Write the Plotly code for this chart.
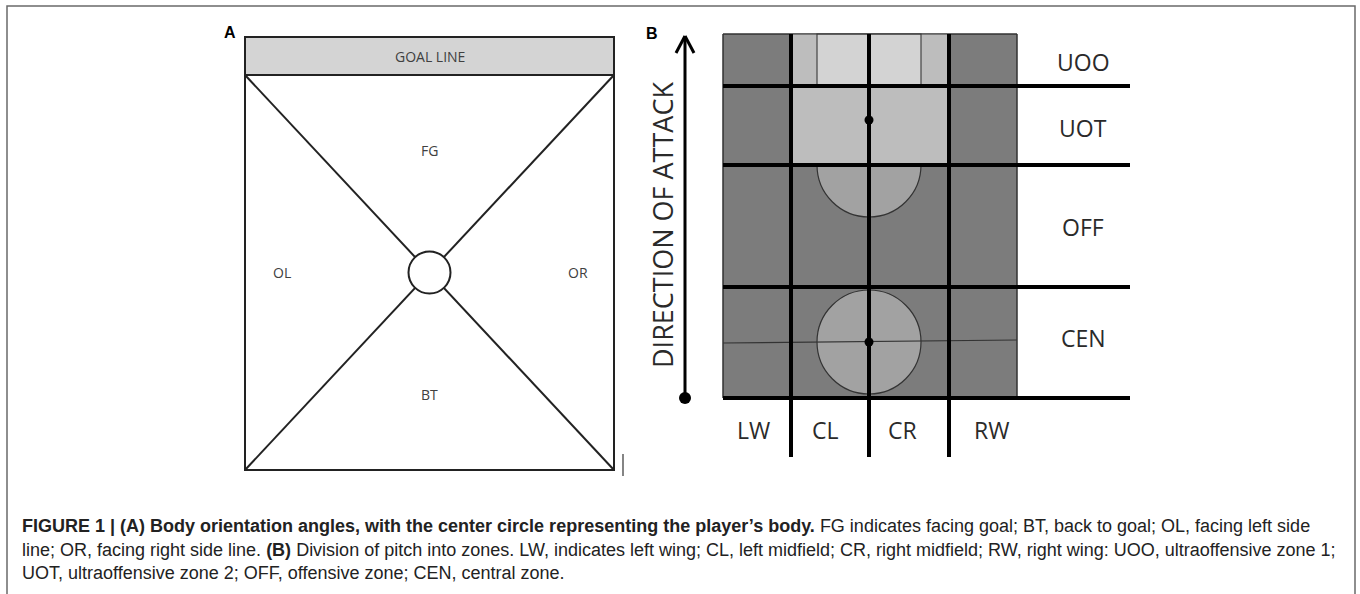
import numpy as np
import plotly.graph_objects as go

# ---------------- content ----------------
panel_labels = ["A", "B"]
goal_label = "GOAL LINE"
orientation_labels = ["FG", "OL", "OR", "BT"]      # top, left, right, bottom sectors
zone_rows = ["UOO", "UOT", "OFF", "CEN"]           # top to bottom
zone_cols = ["LW", "CL", "CR", "RW"]               # left to right
attack_label = "DIRECTION OF ATTACK"
caption_lines = [
    "<b>FIGURE 1 | (A) Body orientation angles, with the center circle representing the player\u2019s body.</b>"
    " FG indicates facing goal; BT, back to goal; OL, facing left side",
    "line; OR, facing right side line. <b>(B)</b> Division of pitch into zones. LW, indicates left wing;"
    " CL, left midfield; CR, right midfield; RW, right wing: UOO, ultraoffensive zone 1;",
    "UOT, ultraoffensive zone 2; OFF, offensive zone; CEN, central zone.",
]

# ---------------- layout geometry (pixels) ----------------
W, H = 1360, 594
A_x0, A_x1, A_top, A_goal, A_bot = 245, 614, 37, 75, 470
A_cx, A_cy, A_r = (A_x0 + A_x1) / 2, (A_goal + A_bot) / 2, 21
A_label_pos = [(A_cx, 150), (282, 272), (578, 272), (A_cx, 394)]

col_edges = [723, 791, 869, 949, 1017]
row_edges = [34, 86, 165, 287, 398]
line_right = 1130
vline_bottom = 457
row_label_x = 1083
row_label_y = [62, 128, 227, 338]
col_label_x = [753, 825, 902, 991]
col_label_y = 430
circ_r = 52

DARK = "#7c7c7c"
LIGHT = "#bdbdbd"
LIGHTER = "#d3d3d3"
MID = "#a2a2a2"
TXT = "#404040"

shapes = []


def rect(x0, y0, x1, y1, fill, lw=0, lc="black"):
    shapes.append(dict(type="rect", xref="x", yref="y", x0=x0, y0=y0, x1=x1, y1=y1,
                       fillcolor=fill, line=dict(width=lw, color=lc), layer="above"))


def line(x0, y0, x1, y1, w, c="black"):
    shapes.append(dict(type="line", xref="x", yref="y", x0=x0, y0=y0, x1=x1, y1=y1,
                       line=dict(width=w, color=c), layer="above"))


def circle(cx, cy, r, fill, lw=1.2, lc="#222"):
    shapes.append(dict(type="circle", xref="x", yref="y", x0=cx - r, y0=cy - r, x1=cx + r, y1=cy + r,
                       fillcolor=fill, line=dict(width=lw, color=lc), layer="above"))


# outer frame
rect(7, 6, 1355, 620, "rgba(0,0,0,0)", 1.5, "#6a6a6a")

# ---------- Panel A ----------
rect(A_x0, A_top, A_x1, A_goal, "#d4d4d4", 2, "#222")
rect(A_x0, A_goal, A_x1, A_bot, "white", 2, "#222")
line(A_x0, A_goal, A_x1, A_bot, 2, "#222")
line(A_x1, A_goal, A_x0, A_bot, 2, "#222")
circle(A_cx, A_cy, A_r, "white", 2, "#222")
line(623, 454, 623, 476, 1.2, "#333")

# ---------- Panel B ----------
cx_mid = col_edges[2]
rect(col_edges[0], row_edges[0], col_edges[-1], row_edges[-1], DARK, 1, "#333")
circle(cx_mid, row_edges[2], circ_r, MID, 1.2, "#333")
rect(col_edges[1], row_edges[1], col_edges[3], row_edges[2], LIGHT)
rect(col_edges[1], row_edges[0], col_edges[3], row_edges[1], LIGHT)
rect(cx_mid - circ_r, row_edges[0], cx_mid + circ_r, row_edges[1], LIGHTER, 1.2, "#444")
cen_cy = (row_edges[3] + row_edges[4]) / 2 - 0.5
circle(cx_mid, cen_cy, circ_r, MID, 1.2, "#333")
line(col_edges[0], cen_cy + 1, col_edges[-1], cen_cy - 2, 1.2, "#333")
rect(col_edges[0], row_edges[0], col_edges[-1], row_edges[-1], "rgba(0,0,0,0)", 1, "#333")
for y in row_edges[1:]:
    line(col_edges[0], y, line_right, y, 4)
for x in col_edges[1:4]:
    line(x, row_edges[0], x, vline_bottom, 4)

# arrow
ax_x, ay_bot, ay_top = 685, 398, 36
line(ax_x, ay_bot, ax_x, ay_top + 1, 3)
line(ax_x - 9, ay_top + 17, ax_x, ay_top, 3)
line(ax_x + 9, ay_top + 17, ax_x, ay_top, 3)

# dots (player positions / arrow origin)
circle(cx_mid, 120, 4.5, "black", 0)
circle(cx_mid, cen_cy, 4.5, "black", 0)
circle(ax_x, ay_bot, 6, "black", 0)

fig = go.Figure()

ann = []


def text(x, y, s, size, color=TXT, family="Open Sans, Calibri, sans-serif", **kw):
    d = dict(x=x, y=y, xref="x", yref="y", text=s, showarrow=False,
             font=dict(size=size, color=color, family=family))
    d.update(kw)
    ann.append(d)


text(230, 32, "<b>" + panel_labels[0] + "</b>", 16, "black", "Liberation Sans, Arial")
text(652, 33, "<b>" + panel_labels[1] + "</b>", 16, "black", "Liberation Sans, Arial")
text(A_cx, (A_top + A_goal) / 2, goal_label, 14)
for lab, (px, py) in zip(orientation_labels, A_label_pos):
    text(px, py, lab, 14)
for lab, y in zip(zone_rows, row_label_y):
    text(row_label_x, y, lab, 23, "#2a2a2a")
for lab, x in zip(zone_cols, col_label_x):
    text(x, col_label_y, lab, 23, "#2a2a2a")
text(662, 225, attack_label, 27, "#2a2a2a", textangle=-90)

for i, s in enumerate(caption_lines):
    text(20, 526 + 23.5 * i, s, 18, "#222",
         "Liberation Sans, Arial, sans-serif",
         xanchor="left", yanchor="middle", align="left")

fig.update_layout(
    width=W, height=H, margin=dict(l=0, r=0, t=0, b=0),
    paper_bgcolor="white", plot_bgcolor="white",
    xaxis=dict(range=[0, W], visible=False, fixedrange=True),
    yaxis=dict(range=[H, 0], visible=False, fixedrange=True),
    shapes=shapes, annotations=ann, showlegend=False,
)
fig.write_html("out.html", config={"displayModeBar": False},
               post_script="document.body.style.margin='0';document.body.style.padding='0';")
